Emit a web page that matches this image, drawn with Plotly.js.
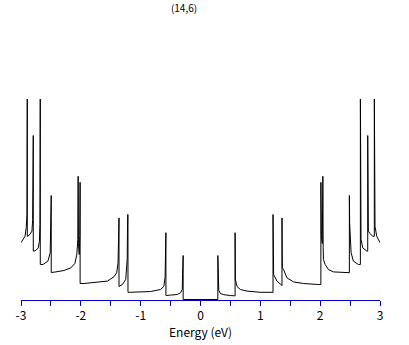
<!DOCTYPE html>
<html>
<head>
<meta charset="utf-8">
<script src="https://cdn.plot.ly/plotly-3.0.1.min.js"></script>
<style>
  html, body { margin: 0; padding: 0; background: #ffffff; }
  #chart { width: 409px; height: 345px; }
</style>
</head>
<body>
<div id="chart"></div>
<script>
// Density of states of a (14,6) nanotube.
// Energy in eV, DOS in arbitrary units.
var title = "(14,6)";
var xTitle = "Energy (eV)";

// valence side (E < 0), left to right
var energyNeg = [-3.0, -2.962, -2.933, -2.912, -2.90, -2.895, -2.895, -2.887, -2.85, -2.817, -2.805, -2.795, -2.795,
  -2.783, -2.75, -2.712, -2.692, -2.683, -2.678, -2.678,
  -2.67, -2.633, -2.55, -2.512, -2.503, -2.495, -2.495,
  -2.487, -2.417, -2.283, -2.167, -2.1, -2.067, -2.05, -2.045, -2.04, -2.027, -2.017, -2.012, -2.012,
  -1.95, -1.783, -1.555, -1.445, -1.4, -1.378, -1.367, -1.362, -1.362,
  -1.353, -1.305, -1.25, -1.225, -1.217, -1.212, -1.212,
  -1.167, -0.833, -0.667, -0.612, -0.592, -0.578, -0.578,
  -0.57, -0.5, -0.388, -0.333, -0.305, -0.3, -0.29, -0.29];
var dosNeg = [1.42, 1.50, 1.58, 1.80, 2.12, 5.3, 1.58, 1.58, 1.63, 1.71, 2.0, 4.10, 1.21,
  1.21, 1.23, 1.29, 1.45, 1.875, 5.3, 0.875,
  0.875, 0.875, 0.96, 1.17, 1.63, 2.6, 0.675,
  0.675, 0.69, 0.725, 0.79, 0.9, 1.125, 1.5, 3.08, 1.4, 1.125, 1.6, 2.93, 0.40,
  0.40, 0.42, 0.46, 0.57, 0.67, 0.92, 1.5, 2.04, 0.325,
  0.33, 0.375, 0.5, 1.0, 2.125, 2.125, 0.18,
  0.18, 0.20, 0.25, 0.33, 0.55, 1.67, 0.10,
  0.10, 0.11, 0.125, 0.17, 0.25, 0.625, 1.10, 0.0];

// conduction side (E > 0), left to right
var energyPos = [0.29, 0.29, 0.295, 0.305, 0.333, 0.388, 0.5, 0.567,
  0.578, 0.578, 0.583, 0.612, 0.667, 0.778, 1.0, 1.195,
  1.212, 1.212, 1.217, 1.222, 1.278, 1.333, 1.35,
  1.362, 1.362, 1.367, 1.388, 1.445, 1.555, 1.722, 1.972, 2.0,
  2.012, 2.012, 2.02, 2.035, 2.045, 2.05, 2.055, 2.083, 2.138, 2.222, 2.388, 2.483,
  2.488, 2.488, 2.493, 2.517, 2.555, 2.638, 2.667,
  2.672, 2.672, 2.677, 2.683, 2.712, 2.75, 2.778,
  2.795, 2.795, 2.80, 2.805, 2.833, 2.878, 2.90,
  2.905, 2.905, 2.91, 2.917, 2.945, 2.972, 3.0];
var dosPos = [0.0, 1.10, 0.83, 0.23, 0.15, 0.12, 0.10, 0.09,
  0.09, 1.67, 0.5, 0.32, 0.25, 0.21, 0.18, 0.18,
  0.18, 2.125, 0.7, 0.625, 0.46, 0.375, 0.35,
  0.35, 2.04, 0.8, 0.75, 0.54, 0.44, 0.40, 0.375, 0.375,
  0.375, 2.93, 1.6, 1.4, 3.08, 1.3, 1.0, 0.875, 0.75, 0.69, 0.67, 0.67,
  0.67, 2.6, 1.9, 1.17, 0.96, 0.875, 0.875,
  0.875, 5.3, 1.9, 1.5, 1.29, 1.23, 1.21,
  1.21, 4.10, 2.0, 1.71, 1.65, 1.58, 1.58,
  1.58, 5.3, 2.1, 1.83, 1.58, 1.50, 1.42];

var xTickVals = [-3, -2.5, -2, -1.5, -1, -0.5, 0, 0.5, 1, 1.5, 2, 2.5, 3];
var xTickText = ["-3", "", "-2", "", "-1", "", "0", "", "1", "", "2", "", "3"];

var energy = energyNeg.concat(energyPos);
var dos = dosNeg.concat(dosPos);

var font = "'Noto Sans CJK JP', 'Noto Sans', sans-serif";
var axisBlue = "#0000c8";

var trace = {
  x: energy,
  y: dos,
  type: "scatter",
  mode: "lines",
  line: { color: "#000000", width: 1 },
  hoverinfo: "skip"
};

var layout = {
  width: 409,
  height: 345,
  margin: { l: 21, r: 29, t: 99, b: 45, pad: 0 },
  paper_bgcolor: "#ffffff",
  plot_bgcolor: "#ffffff",
  showlegend: false,
  title: {
    text: title,
    font: { family: font, size: 10, color: "#000000" },
    xref: "container", x: 0.45, xanchor: "center",
    yref: "container", y: 0.976, yanchor: "middle"
  },
  xaxis: {
    range: [-3, 3],
    showgrid: false,
    zeroline: false,
    showline: true,
    linecolor: axisBlue,
    linewidth: 1,
    layer: "below traces",
    ticks: "outside",
    ticklen: 5,
    tickwidth: 1,
    tickcolor: axisBlue,
    tickmode: "array",
    tickvals: xTickVals,
    ticktext: xTickText,
    tickfont: { family: font, size: 12, color: "#000000" },
    automargin: true,
    title: { text: xTitle, standoff: 2, font: { family: font, size: 12, color: "#000000" } },
    fixedrange: true
  },
  yaxis: {
    range: [-0.0125, 5.0125],
    visible: false,
    showgrid: false,
    zeroline: false,
    fixedrange: true
  }
};

Plotly.newPlot("chart", [trace], layout, { displayModeBar: false, staticPlot: true });
</script>
</body>
</html>
